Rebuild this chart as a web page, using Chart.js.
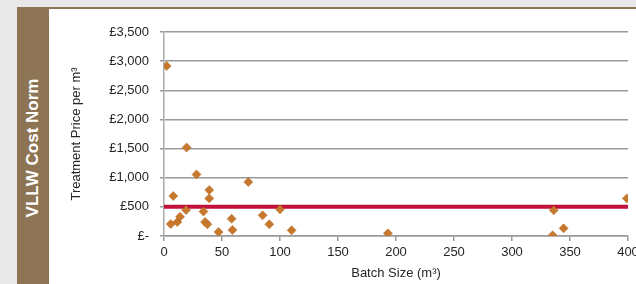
<!DOCTYPE html>
<html>
<head>
<meta charset="utf-8">
<script src="https://cdn.jsdelivr.net/npm/chart.js@4.4.0/dist/chart.umd.min.js"></script>
<style>
  html, body { margin:0; padding:0; width:636px; height:284px; overflow:hidden; background:#e9e9e9; font-family:"Liberation Sans", Arial, sans-serif; }
  #panel { position:absolute; left:17px; top:7px; width:32px; height:277px; background:#8d7455; }
  #band { position:absolute; left:17px; top:7px; width:619px; height:2px; background:#8d7455; }
  #white { position:absolute; left:49px; top:9px; width:587px; height:275px; background:#ffffff; }
  #ptitle { position:absolute; left:33px; top:148px; transform:translate(-50%,-50%) rotate(-90deg); color:#fff; font-weight:bold; font-size:17px; white-space:nowrap; }
  #wrap { position:absolute; left:49px; top:9px; width:600px; height:275px; }
</style>
</head>
<body>
<div id="panel"></div>
<div id="band"></div>
<div id="white"></div>
<div id="ptitle">VLLW Cost Norm</div>
<div id="wrap"><canvas id="c" width="600" height="275"></canvas></div>
<script>
// Data
const batchSize = [2.3, 5.8, 8, 11.5, 13.8, 19, 19.5, 28, 34, 35.4, 37.4, 39, 39, 47, 58.3, 59, 72.7, 85, 90.8, 100, 110, 193, 336, 335, 344.5, 399];
const pricePerM3 = [2916, 205, 685, 240, 330, 445, 1519, 1056, 420, 240, 200, 788, 645, 68, 296, 103, 925, 354, 200, 457, 97, 46, 440, 12, 131, 645];
const normX = [0, 400];
const normY = [500, 500];
const yTicks = [0, 500, 1000, 1500, 2000, 2500, 3000, 3500];
const xTicks = [0, 50, 100, 150, 200, 250, 300, 350, 400];

const scatterPts = batchSize.map((x, i) => ({ x: x, y: pricePerM3[i] }));
const normPts = normX.map((x, i) => ({ x: x, y: normY[i] }));

const FONT = "'Liberation Sans', Arial, sans-serif";

new Chart(document.getElementById('c'), {
  type: 'scatter',
  data: {
    datasets: [
      {
        label: 'Treatment price',
        data: scatterPts,
        pointStyle: 'rectRot',
        pointRadius: 4.5,
        backgroundColor: '#c8782c',
        borderColor: '#b0651f',
        borderWidth: 0.5
      },
      {
        type: 'line',
        label: 'VLLW cost norm',
        data: normPts,
        borderColor: '#c0103c',
        borderWidth: 4,
        pointRadius: 0,
        fill: false
      }
    ]
  },
  options: {
    responsive: false,
    animation: false,
    layout: { padding: { top: 23, right: 21, bottom: 0, left: 0 } },
    plugins: { legend: { display: false }, tooltip: { enabled: false } },
    scales: {
      x: {
        type: 'linear',
        min: 0, max: 400,
        afterBuildTicks: (s) => { s.ticks = xTicks.map(v => ({ value: v })); },
        afterFit: (s) => { s.height = 48; },
        ticks: { color: '#262626', font: { family: FONT, size: 13 }, padding: 4, maxRotation: 0 },
        grid: { drawOnChartArea: false, drawTicks: true, tickLength: 5, color: '#999', lineWidth: 1.5 },
        border: { display: true, color: '#999', width: 1.5 },
        title: { display: true, text: 'Batch Size (m³)', color: '#262626', font: { family: FONT, size: 13 }, padding: { top: 0, bottom: 3 } }
      },
      y: {
        type: 'linear',
        min: 0, max: 3500,
        afterBuildTicks: (s) => { s.ticks = yTicks.map(v => ({ value: v })); },
        afterFit: (s) => { s.width = 115; },
        ticks: {
          color: '#262626', font: { family: FONT, size: 13 }, padding: 11,
          callback: (v) => v === 0 ? '£-' : '£' + Number(v).toLocaleString('en-GB')
        },
        grid: { drawTicks: true, tickLength: 4, color: '#999', lineWidth: 1.5 },
        border: { display: true, color: '#aaa', width: 1.5 },
        title: { display: true, text: 'Treatment Price per m³', color: '#262626', font: { family: FONT, size: 13 }, padding: { top: 20, bottom: 0 } }
      }
    }
  }
});
</script>
</body>
</html>
